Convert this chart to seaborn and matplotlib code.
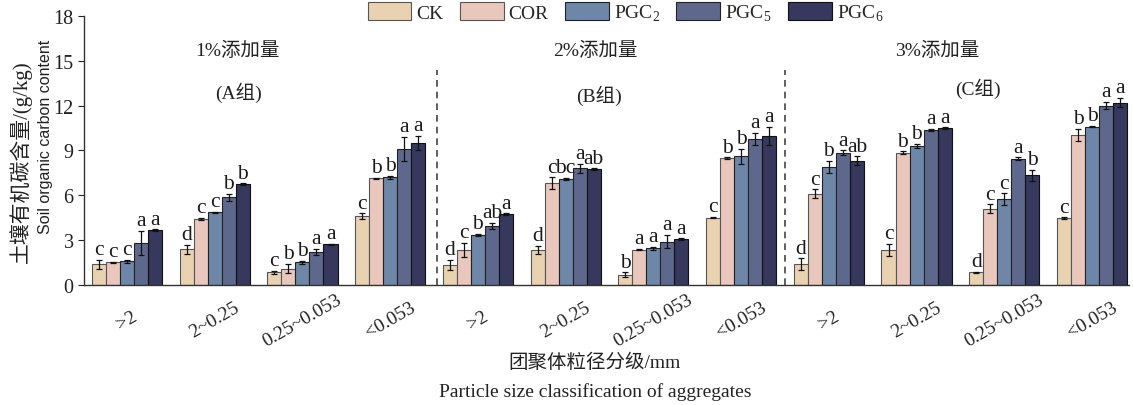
import numpy as np
import pandas as pd
import seaborn as sns
import matplotlib
matplotlib.use("Agg")
import matplotlib.pyplot as plt

# ---------------- data ----------------
groups = ["A", "B", "C"]
sizes = [">2", "2~0.25", "0.25~0.053", "<0.053"]
treatments = ["CK", "COR", "PGC2", "PGC5", "PGC6"]
legend_labels = ["CK", "COR", r"PGC$_\mathregular{2}$", r"PGC$_\mathregular{5}$", r"PGC$_\mathregular{6}$"]

# values for 12 categories: A(>2, 2~0.25, 0.25~0.053, <0.053), B(...), C(...)
CK   = [1.40, 2.40, 0.85, 4.60,  1.35, 2.34, 0.70, 4.50,  1.38, 2.36, 0.85, 4.47]
COR  = [1.52, 4.42, 1.10, 7.14,  2.34, 6.80, 2.36, 8.50,  6.10, 8.85, 5.10, 10.06]
PGC2 = [1.60, 4.86, 1.52, 7.20,  3.35, 7.10, 2.45, 8.60,  7.90, 9.30, 5.74, 10.60]
PGC5 = [2.80, 5.87, 2.23, 9.10,  3.95, 7.80, 2.90, 9.77,  8.85, 10.37, 8.45, 12.00]
PGC6 = [3.68, 6.76, 2.72, 9.50,  4.75, 7.75, 3.07, 9.97,  8.30, 10.50, 7.34, 12.20]

CK_err   = [0.30, 0.30, 0.10, 0.20,  0.35, 0.30, 0.15, 0.05,  0.40, 0.40, 0.05, 0.05]
COR_err  = [0.05, 0.05, 0.30, 0.05,  0.50, 0.40, 0.05, 0.05,  0.30, 0.10, 0.30, 0.40]
PGC2_err = [0.10, 0.05, 0.10, 0.10,  0.05, 0.05, 0.10, 0.50,  0.40, 0.15, 0.40, 0.05]
PGC5_err = [0.80, 0.25, 0.20, 0.80,  0.20, 0.30, 0.45, 0.40,  0.15, 0.10, 0.10, 0.25]
PGC6_err = [0.05, 0.05, 0.05, 0.50,  0.05, 0.05, 0.05, 0.60,  0.30, 0.05, 0.35, 0.30]

CK_sig   = ["c", "d", "c", "c",  "d", "d", "b", "c",  "d", "c", "d", "c"]
COR_sig  = ["c", "c", "b", "b",  "c", "c", "a", "b",  "c", "b", "c", "b"]
PGC2_sig = ["c", "c", "b", "b",  "b", "bc", "a", "b",  "b", "b", "c", "b"]
PGC5_sig = ["a", "b", "a", "a",  "ab", "a", "a", "a",  "a", "a", "a", "a"]
PGC6_sig = ["a", "b", "a", "a",  "a", "ab", "a", "a",  "ab", "a", "b", "a"]

group_titles = ["1%添加量", "2%添加量", "3%添加量"]
group_tags = ["(A组)", "(B组)", "(C组)"]

colors = ["#F2D4A9", "#F1C3B4", "#6586B1", "#566395", "#2F3264"]
edgecols = ["#555555", "#555555", "#222222", "#222222", "#111111"]

values = {"CK": CK, "COR": COR, "PGC2": PGC2, "PGC5": PGC5, "PGC6": PGC6}
errors = {"CK": CK_err, "COR": COR_err, "PGC2": PGC2_err, "PGC5": PGC5_err, "PGC6": PGC6_err}
sigs = {"CK": CK_sig, "COR": COR_sig, "PGC2": PGC2_sig, "PGC5": PGC5_sig, "PGC6": PGC6_sig}

cats = [f"{g}|{s}" for g in groups for s in sizes]
rows = []
for t in treatments:
    for c, v in zip(cats, values[t]):
        rows.append({"cat": c, "treatment": t, "value": v})
df = pd.DataFrame(rows)

# ---------------- style ----------------
sns.set_theme(style="ticks")
plt.rcParams["font.family"] = ["Liberation Serif", "Noto Sans CJK SC"]
plt.rcParams["axes.unicode_minus"] = False

fig = plt.figure(figsize=(11.33, 4.06), dpi=100)
ax = fig.add_axes([0.0741, 0.2956, 0.9223, 0.6626])

sns.barplot(data=df, x="cat", y="value", hue="treatment", order=cats,
            hue_order=treatments, palette=colors, errorbar=None, width=0.8,
            linewidth=0.8, edgecolor="#333333", legend=False, ax=ax)

for i, (t, cont) in enumerate(zip(treatments, ax.containers)):
    for j, bar in enumerate(cont.patches):
        bar.set_edgecolor(edgecols[i])
        xc = bar.get_x() + bar.get_width() / 2
        h = bar.get_height()
        e = errors[t][j]
        ax.errorbar(xc, h, yerr=e, fmt="none", ecolor="#111111", elinewidth=0.9,
                    capsize=2.2, capthick=0.9, zorder=5)
        ax.annotate(sigs[t][j], (xc, h + e), xytext=(0, 0.5), textcoords="offset points",
                    ha="center", va="bottom", fontsize=15.5, color="#1a1a1a")

ax.set_ylim(0, 18)
ax.set_yticks(np.arange(0, 19, 3))
ax.set_xlim(-0.49, 11.42)
ax.set_xticks(range(len(cats)))
ax.set_xticklabels(sizes * 3, rotation=30, ha="center", va="center", fontsize=14, color="#222222")
ax.tick_params(axis="x", length=0, pad=25)
ax.tick_params(axis="y", length=4, width=0.8, labelsize=14.5, colors="#222222", direction="out")
ax.spines["top"].set_visible(False)
ax.spines["right"].set_visible(False)
for sp in ["left", "bottom"]:
    ax.spines[sp].set_color("#333333")
    ax.spines[sp].set_linewidth(1.0)
ax.set_xlabel("")
ax.set_ylabel("")

# separators
for xs in [3.53, 7.5]:
    ax.vlines(xs, 0, 14.4, colors="#444444", linestyles=(0, (4, 3)), linewidth=1.2)

# group titles
title_pos = [(1.26, 15.73), (5.34, 15.73), (9.23, 15.73)]
tag_pos = [(1.27, 12.9), (5.38, 12.7), (9.7, 13.2)]
for (x, y), s in zip(title_pos, group_titles):
    ax.text(x, y, s, ha="center", va="center", fontsize=14, color="#222222")
for (x, y), s in zip(tag_pos, group_tags):
    ax.text(x, y, s, ha="center", va="center", fontsize=14, color="#222222")

# legend
fig.legend(ax.containers, legend_labels, loc="center", bbox_to_anchor=(0.552, 0.966),
           ncol=5, frameon=False, fontsize=14, handlelength=2.25, handleheight=1.05,
           handletextpad=0.25, columnspacing=0.85, borderaxespad=0)

# axis labels
fig.text(0.0177, 0.601, "土壤有机碳含量/(g/kg)", rotation=90, ha="center", va="center",
         fontsize=15, color="#222222")
fig.text(0.0405, 0.663, "Soil organic carbon content", rotation=90, ha="center", va="center",
         fontsize=11.5, color="#222222", family=["Liberation Sans", "DejaVu Sans"])
fig.text(0.525, 0.106, "团聚体粒径分级/mm", ha="center", va="center", fontsize=14, color="#222222")
fig.text(0.525, 0.034, "Particle size classification of aggregates", ha="center", va="center",
         fontsize=14, color="#222222")

fig.savefig("out.png", dpi=100)
